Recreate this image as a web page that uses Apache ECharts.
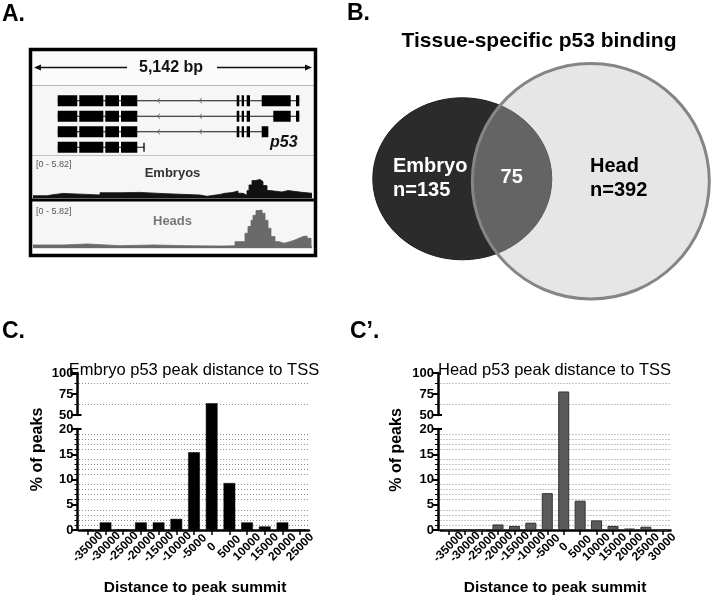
<!DOCTYPE html>
<html><head><meta charset="utf-8">
<script src="https://cdn.jsdelivr.net/npm/echarts@6/dist/echarts.min.js"></script>
<style>html,body{margin:0;padding:0;background:#fff}#c{width:712px;height:599px}</style>
</head><body><div id="c"></div>
<script>
// ===== Panel C / C' : histogram data (% of peaks) =====
const embryoCats = ['-35000','-30000','-25000','-20000','-15000','-10000','-5000','0','5000','10000','15000','20000','25000'];
const embryoPct  = [0, 1.5, 0, 1.5, 1.5, 2.2, 15.4, 64, 9.3, 1.5, 0.7, 1.5, 0];
const headCats   = ['-35000','-30000','-25000','-20000','-15000','-10000','-5000','0','5000','10000','15000','20000','25000','30000'];
const headPct    = [0, 0, 0, 1.1, 0.8, 1.45, 7.3, 78, 5.8, 1.9, 0.8, 0.3, 0.65, 0];
const lowerRange = [0, 20];
const upperRange = [50, 100];

// ===== Panel B : Venn =====
const vennSets   = ['Embryo', 'Head'];
const vennCounts = [135, 392];
const vennShared = 75;

// ===== Panel A : genome browser =====
const regionLength = 5142;
const trackMax = 5.82;
const trackNames = ['Embryos', 'Heads'];
const geneName = 'p53';
const txExons = [
  [[455,816],[853,1296],[1332,1585],[1622,1922],[3754,3802],[3846,3889],[3938,3999],[4215,4749],[4847,4908]],
  [[455,816],[853,1296],[1332,1585],[1622,1922],[3754,3802],[3846,3889],[3938,3999],[4429,4749],[4847,4908]],
  [[455,816],[853,1296],[1332,1585],[1622,1922],[3754,3802],[3846,3889],[3938,3999],[4215,4337]],
  [[455,816],[853,1296],[1332,1585],[1622,1922]]
];
const txEnds = [4908, 4908, 4337, 2046];
const strandMarks = [2304, 3078];
const embryoPos = [0,258,369,553,995,1235,1603,1972,2341,2580,3078,3207,3447,3539,3668,3778,3870,3944,3981,4036,4091,4184,4239,4313,4368,4589,4700,4958,5142];
const embryoCov = [0.38,0.52,0.71,0.57,0.48,0.81,0.86,0.71,0.63,0.48,0.29,0.57,0.73,0.83,1.06,0.73,0.44,1.12,1.94,2.58,2.72,2.43,1.85,1.12,0.92,1.12,0.87,0.73,0.73];
const headPos = [0,553,995,1603,2212,2838,3447,3723,3907,3962,4018,4055,4110,4165,4221,4276,4331,4386,4460,4534,4626,4737,4829,4902,4976,5050,5124,5142];
const headCov = [0.48,0.63,0.38,0.48,0.38,0.33,0.36,0.97,2.18,3.16,4.07,4.80,5.49,5.57,5.09,4.07,2.91,1.70,0.97,0.73,0.97,1.21,1.46,1.70,1.79,1.46,0.97,0.83];

// ---------------------------------------------------------------
const FF = '"Liberation Sans", Arial, sans-serif';
const chart = echarts.init(document.getElementById('c'), null, {renderer:'canvas'});

// broken-axis geometry (pixels)
const LOW_TOP = 429, LOW_H = 101, UP_TOP = 373, UP_H = 42;
function brk(v){
  if (v <= lowerRange[1]) return v;
  const perUnitLow = LOW_H / (lowerRange[1]-lowerRange[0]);
  const gap = (LOW_TOP - (UP_TOP + UP_H)) / perUnitLow;
  const perUnitUp = UP_H / (upperRange[1]-upperRange[0]);
  return lowerRange[1] + gap + (Math.min(v, upperRange[1]) - upperRange[0]) * perUnitUp / perUnitLow;
}

const C_LEFT = 79, C_W = 230, C_OFF = 1.5;
const D_LEFT = 440.5, D_W = 230, D_OFF = 2.5;

const grids = [
  {left:33, width:279, top:93, height:62},          // 0 gene models
  {left:33, width:279, top:158.3, height:40},       // 1 embryo track
  {left:33, width:279, top:208.3, height:40},       // 2 head track
  {left:C_LEFT, width:C_W, top:LOW_TOP, height:LOW_H},  // 3 C lower
  {left:C_LEFT, width:C_W, top:UP_TOP, height:UP_H},    // 4 C upper
  {left:D_LEFT, width:D_W, top:LOW_TOP, height:LOW_H},  // 5 C' lower
  {left:D_LEFT, width:D_W, top:UP_TOP, height:UP_H}     // 6 C' upper
].map(g => Object.assign({outerBoundsMode:'none', containLabel:false, show:false}, g));

const xAxes = [
  {gridIndex:0, type:'value', min:0, max:regionLength, show:false},
  {gridIndex:1, type:'value', min:0, max:regionLength, show:false},
  {gridIndex:2, type:'value', min:0, max:regionLength, show:false},
];
const yAxes = [
  {gridIndex:0, type:'category', data:['1','2','3','4'], inverse:true, show:false},
  {gridIndex:1, type:'value', min:0, max:trackMax, show:false},
  {gridIndex:2, type:'value', min:0, max:trackMax, show:false},
];

function histAxes(gLow, gUp, cats, yOff){
  const axisLine = {show:true, onZero:false, lineStyle:{color:'#000', width:2.5}};
  const lbl = {color:'#000', fontFamily:FF, fontWeight:'bold', fontSize:13, margin:4};
  const dots = {show:true, lineStyle:{color:'#8f8f8f', type:[1,2], width:1}};
  xAxes.push({gridIndex:gLow, type:'category', data:cats, boundaryGap:true,
    axisLine:axisLine,
    axisTick:{show:true, alignWithLabel:true, length:5, lineStyle:{color:'#000', width:1.5}},
    axisLabel:{interval:0, rotate:45, align:'center', verticalAlign:'middle', color:'#000', fontFamily:FF,
               fontWeight:'bold', fontSize:12, margin:17, hideOverlap:false},
    splitLine:{show:false}});
  xAxes.push({gridIndex:gUp, type:'category', data:cats, show:false});
  yAxes.push({gridIndex:gLow, type:'value', min:lowerRange[0], max:lowerRange[1], interval:5, offset:yOff,
    axisLine:axisLine,
    axisTick:{show:true, length:6, lineStyle:{color:'#000', width:2}},
    minorTick:{show:true, splitNumber:5, length:3, lineStyle:{color:'#000', width:1}},
    splitLine:{show:false},
    minorSplitLine:dots,
    axisLabel:lbl});
  yAxes.push({gridIndex:gUp, type:'value', min:upperRange[0], max:upperRange[1], interval:25, offset:yOff,
    axisLine:axisLine,
    axisTick:{show:true, length:6, lineStyle:{color:'#000', width:2}},
    minorTick:{show:true, splitNumber:2, length:3, lineStyle:{color:'#000', width:1}},
    splitLine:{show:false},
    minorSplitLine:dots,
    axisLabel:lbl});
}
histAxes(3, 4, embryoCats, C_OFF);
histAxes(5, 6, headCats, D_OFF);

// gene model items: [start, row, end, kind] kind 0=intron,1=exon,2=strand chevron,3=end tick
const geneItems = [];
txExons.forEach((ex, r) => {
  geneItems.push([ex[0][0], r, txEnds[r], 0]);
  strandMarks.forEach(m => { if (m < txEnds[r]) geneItems.push([m, r, m, 2]); });
  ex.forEach(e => geneItems.push([e[0], r, e[1], 1]));
  if (txEnds[r] > ex[ex.length-1][1]) geneItems.push([txEnds[r], r, txEnds[r], 3]);
});

function renderGene(params, api){
  const s = api.value(0), r = api.value(1), e = api.value(2), k = api.value(3);
  const p1 = api.coord([s, r]), p2 = api.coord([e, r]);
  const y = p1[1];
  if (k === 1) return {type:'rect', shape:{x:p1[0], y:y-5.5, width:Math.max(p2[0]-p1[0], 1.5), height:11}, style:{fill:'#000'}};
  if (k === 0) return {type:'line', shape:{x1:p1[0], y1:y, x2:p2[0], y2:y}, style:{stroke:'#111', lineWidth:1}};
  if (k === 2) return {type:'polyline', shape:{points:[[p1[0]+2, y-2.5],[p1[0]-1, y],[p1[0]+2, y+2.5]]}, style:{stroke:'#777', lineWidth:1, fill:null}};
  return {type:'line', shape:{x1:p1[0], y1:y-4.5, x2:p1[0], y2:y+4.5}, style:{stroke:'#000', lineWidth:1.3}};
}

// Venn layout (diagram geometry)
const vennGeom = [
  {cx:462.3, cy:178.8, rx:89.5, ry:81, fill:'#2b2b2b', stroke:'#1e1e1e', lw:1, tx:393, color:'#fff'},
  {cx:590.8, cy:181.2, rx:118.5, ry:117.8, fill:'rgba(190,190,190,0.39)', stroke:'#858585', lw:3, tx:590, color:'#000'}
];
function renderVenn(params, api){
  const i = params.dataIndex;
  const vf = 'bold 20px ' + FF;
  if (i < 2) {
    const g = vennGeom[i];
    return {type:'group', children:[
      {type:'ellipse', shape:{cx:g.cx, cy:g.cy, rx:g.rx, ry:g.ry}, style:{fill:g.fill, stroke:g.stroke, lineWidth:g.lw}},
      {type:'text', x:g.tx, y:166, style:{text:vennSets[i], font:vf, fill:g.color, align:'left', verticalAlign:'middle'}},
      {type:'text', x:g.tx, y:190, style:{text:'n=' + vennCounts[i], font:vf, fill:g.color, align:'left', verticalAlign:'middle'}}
    ]};
  }
  return {type:'text', x:511.7, y:177, style:{text:String(vennShared), font:vf, fill:'#fff', align:'center', verticalAlign:'middle'}};
}

function T(x, y, text, font, extra){
  extra = extra || {};
  return {type:'text', x:x, y:y, z:extra.z || 50, rotation:extra.rot || 0,
    style:{text:text, font:font, fill:extra.fill || '#000', align:extra.align || 'left', verticalAlign:'middle'}};
}
function breakMark(axisX, y){
  return {type:'line', z:50, shape:{x1:axisX - 6, y1:y, x2:axisX + 4, y2:y}, style:{stroke:'#000', lineWidth:2}};
}
const cAxisX = C_LEFT - C_OFF, dAxisX = D_LEFT - D_OFF;

const graphics = [
  // panel A frame & backgrounds
  {type:'rect', z:0, shape:{x:31, y:50, width:283, height:205}, style:{fill:'#f6f6f6'}},
  {type:'rect', z:0, shape:{x:31, y:50, width:283, height:35}, style:{fill:'#fbfbfb'}},
  {type:'rect', z:9, shape:{x:31, y:248.8, width:283, height:5}, style:{fill:'#fdfdfd'}},
  {type:'line', z:9, shape:{x1:31, y1:85.5, x2:314, y2:85.5}, style:{stroke:'#b5b5b5', lineWidth:1}},
  {type:'line', z:9, shape:{x1:31, y1:155.5, x2:314, y2:155.5}, style:{stroke:'#c0c0c0', lineWidth:1}},
  {type:'line', z:9, shape:{x1:31, y1:200, x2:314, y2:200}, style:{stroke:'#000', lineWidth:3}},
  {type:'rect', z:10, shape:{x:30.5, y:49.5, width:285, height:206}, style:{fill:null, stroke:'#000', lineWidth:3.5}},
  // ruler
  {type:'line', z:9, shape:{x1:36, y1:67.5, x2:127, y2:67.5}, style:{stroke:'#111', lineWidth:1.3}},
  {type:'line', z:9, shape:{x1:217, y1:67.5, x2:309, y2:67.5}, style:{stroke:'#111', lineWidth:1.3}},
  {type:'polygon', z:9, shape:{points:[[34,67.5],[41,64.5],[41,70.5]]}, style:{fill:'#111'}},
  {type:'polygon', z:9, shape:{points:[[312,67.5],[305,64.5],[305,70.5]]}, style:{fill:'#111'}},
  T(171, 68, regionLength.toLocaleString('en-US') + ' bp', 'bold 16px ' + FF, {align:'center', fill:'#111'}),
  T(270, 143, geneName, 'italic bold 16px ' + FF, {fill:'#111'}),
  T(36, 165, '[0 - ' + trackMax + ']', '9px ' + FF, {fill:'#555'}),
  T(172.5, 173, trackNames[0], 'bold 13px ' + FF, {align:'center', fill:'#333'}),
  T(36, 212, '[0 - ' + trackMax + ']', '9px ' + FF, {fill:'#555'}),
  T(172.5, 221, trackNames[1], 'bold 13px ' + FF, {align:'center', fill:'#777'}),
  // panel letters
  T(2, 15, 'A.', 'bold 23px ' + FF),
  T(347, 14, 'B.', 'bold 23px ' + FF),
  T(2, 332, 'C.', 'bold 23px ' + FF),
  T(350, 332, 'C\u2019.', 'bold 23px ' + FF),
  // titles
  T(539, 41, 'Tissue-specific p53 binding', 'bold 21px ' + FF, {align:'center'}),
  T(194, 370, 'Embryo p53 peak distance to TSS', '16.5px ' + FF, {align:'center'}),
  T(554.5, 370, 'Head p53 peak distance to TSS', '16.5px ' + FF, {align:'center'}),
  T(38, 449.5, '% of peaks', 'bold 16px ' + FF, {align:'center', rot:Math.PI/2}),
  T(397, 450, '% of peaks', 'bold 16px ' + FF, {align:'center', rot:Math.PI/2}),
  T(195, 588, 'Distance to peak summit', 'bold 15.5px ' + FF, {align:'center'}),
  T(555, 588, 'Distance to peak summit', 'bold 15.5px ' + FF, {align:'center'}),
  // axis break caps
  breakMark(cAxisX, UP_TOP + UP_H), breakMark(cAxisX, LOW_TOP),
  breakMark(dAxisX, UP_TOP + UP_H), breakMark(dAxisX, LOW_TOP)
];

const option = {
  animation:false,
  backgroundColor:'#fff',
  textStyle:{fontFamily:FF},
  grid:grids, xAxis:xAxes, yAxis:yAxes,
  graphic:{elements:graphics},
  series:[
    {type:'custom', name:'gene', xAxisIndex:0, yAxisIndex:0, renderItem:renderGene, data:geneItems,
     encode:{x:[0,2], y:1}, z:5, silent:true},
    {type:'line', name:trackNames[0], xAxisIndex:1, yAxisIndex:1, step:'end', symbol:'none', z:3,
     data:embryoPos.map((p,i)=>[p, embryoCov[i]]),
     lineStyle:{color:'#111', width:0.8}, areaStyle:{color:'#111', opacity:1}},
    {type:'line', name:trackNames[1], xAxisIndex:2, yAxisIndex:2, step:'end', symbol:'none', z:3,
     data:headPos.map((p,i)=>[p, headCov[i]]),
     lineStyle:{color:'#6a6a6a', width:0.8}, areaStyle:{color:'#6a6a6a', opacity:1}},
    {type:'bar', name:'Embryo', xAxisIndex:3, yAxisIndex:3, data:embryoPct.map(brk), clip:false,
     barWidth:'66%', itemStyle:{color:'#000', borderColor:'#000', borderWidth:0.5}, z:4},
    {type:'bar', name:'Head', xAxisIndex:5, yAxisIndex:5, data:headPct.map(brk), clip:false,
     barWidth:'67%', itemStyle:{color:'#5a5a5a', borderColor:'#333', borderWidth:1}, z:4},
    {type:'custom', name:'venn', coordinateSystem:'none', renderItem:renderVenn, data:[[0],[1],[2]], z:6, silent:true}
  ]
};
chart.setOption(option);
</script>
</body></html>
